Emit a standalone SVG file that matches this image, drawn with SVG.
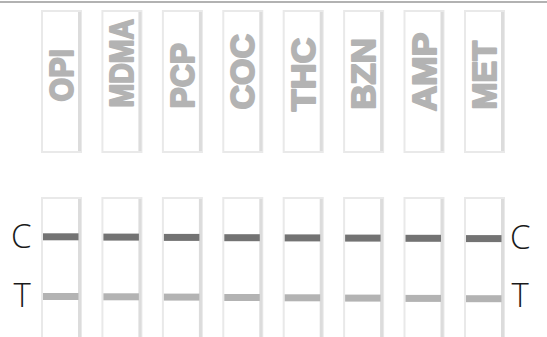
<svg xmlns="http://www.w3.org/2000/svg" width="547" height="337" viewBox="0 0 547 337">
<defs>
<style>
.frame{fill:#ffffff;stroke:#e9e9e9;stroke-width:2}
.shadow{fill:#dcdcdc}
.lbl{font-family:"Liberation Sans",Arial,sans-serif;font-weight:bold;font-size:34px;fill:#b3b3b3;stroke:#b3b3b3;stroke-width:2px;stroke-linejoin:round}
.ct{font-family:"Open Sans","Noto Sans",sans-serif;font-weight:300;font-size:33px;fill:#1a1a1a}
.cband{fill:#737373}
.tband{fill:#b3b3b3}
</style>
<g id="strip-top">
<rect class="frame" x="42" y="11" width="39" height="141"/>
<rect class="shadow" x="78" y="12" width="3" height="139"/>
</g>
<g id="strip-bot">
<rect class="frame" x="42" y="198" width="39" height="145"/>
<rect class="shadow" x="78" y="199" width="3" height="140"/>
</g>
</defs>
<rect x="0" y="0" width="547" height="337" fill="#ffffff"/>
<line x1="0" y1="2" x2="547" y2="2" stroke="#999999" stroke-width="1.5"/>
<g id="labels-ct">
<text class="ct" x="11" y="248">C</text>
<text class="ct" x="13.5" y="307">T</text>
<text class="ct" x="510" y="249">C</text>
<text class="ct" x="511.5" y="307">T</text>
</g>
<g id="opi"><use href="#strip-top"/><text class="lbl" transform="translate(73,101.5) rotate(-90)" textLength="52.5" lengthAdjust="spacingAndGlyphs">OPI</text><use href="#strip-bot"/><rect class="cband" x="43" y="233.3" width="35.5" height="7"/><rect class="tband" x="43" y="293" width="35.5" height="7"/></g>
<g id="mdma" transform="translate(60.4,0)"><use href="#strip-top"/><text class="lbl" transform="translate(73,107.5) rotate(-90)" textLength="88.5" lengthAdjust="spacingAndGlyphs">MDMA</text><use href="#strip-bot"/><rect class="cband" x="43" y="233.6" width="35.5" height="7"/><rect class="tband" x="43" y="293.3" width="35.5" height="7"/></g>
<g id="pcp" transform="translate(120.9,0)"><use href="#strip-top"/><text class="lbl" transform="translate(73,108.5) rotate(-90)" textLength="65.5" lengthAdjust="spacingAndGlyphs">PCP</text><use href="#strip-bot"/><rect class="cband" x="43" y="233.9" width="35.5" height="7"/><rect class="tband" x="43" y="293.6" width="35.5" height="7"/></g>
<g id="coc" transform="translate(181.3,0)"><use href="#strip-top"/><text class="lbl" transform="translate(73,109.5) rotate(-90)" textLength="75.5" lengthAdjust="spacingAndGlyphs">COC</text><use href="#strip-bot"/><rect class="cband" x="43" y="234.2" width="35.5" height="7"/><rect class="tband" x="43" y="294" width="35.5" height="7"/></g>
<g id="thc" transform="translate(241.7,0)"><use href="#strip-top"/><text class="lbl" transform="translate(73,111.2) rotate(-90)" textLength="73.5" lengthAdjust="spacingAndGlyphs">THC</text><use href="#strip-bot"/><rect class="cband" x="43" y="234.4" width="35.5" height="7"/><rect class="tband" x="43" y="294.3" width="35.5" height="7"/></g>
<g id="bzn" transform="translate(302.1,0)"><use href="#strip-top"/><text class="lbl" transform="translate(73,109.5) rotate(-90)" textLength="71.5" lengthAdjust="spacingAndGlyphs">BZN</text><use href="#strip-bot"/><rect class="cband" x="43" y="234.6" width="35.5" height="7"/><rect class="tband" x="43" y="294.6" width="35.5" height="7"/></g>
<g id="amp" transform="translate(362.5,0)"><use href="#strip-top"/><text class="lbl" transform="translate(73,111.2) rotate(-90)" textLength="78.5" lengthAdjust="spacingAndGlyphs">AMP</text><use href="#strip-bot"/><rect class="cband" x="43" y="234.8" width="35.5" height="7"/><rect class="tband" x="43" y="294.9" width="35.5" height="7"/></g>
<g id="met" transform="translate(423,0)"><use href="#strip-top"/><text class="lbl" transform="translate(73,109.5) rotate(-90)" textLength="68.5" lengthAdjust="spacingAndGlyphs">MET</text><use href="#strip-bot"/><rect class="cband" x="43" y="235.1" width="35.5" height="7"/><rect class="tband" x="43" y="295.2" width="35.5" height="7"/></g>
<g id="connectors"></g>
</svg>
